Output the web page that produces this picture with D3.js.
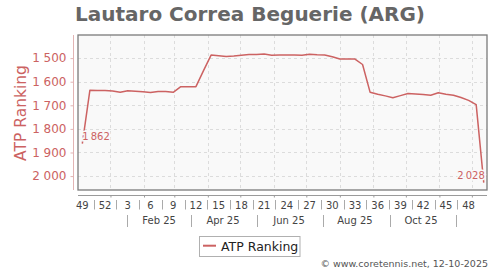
<!DOCTYPE html>
<html><head><meta charset="utf-8">
<script src="https://cdn.jsdelivr.net/npm/d3@7"></script>
<style>
html,body{margin:0;padding:0;background:#fff;}
svg{display:block;font-family:"DejaVu Sans",sans-serif;}
</style></head>
<body>
<svg id="chart" width="500" height="270"></svg>
<script>
// ---- data ----
const titleText = "Lautaro Correa Beguerie (ARG)";
const seriesName = "ATP Ranking";
const firstWeekDate = "2024-12-06"; // Friday of ISO week 49, 2024
const rankings = [1862,1636,1637,1637,1639,1645,1638,1640,1643,1646,
  1641,1642,1645,1621,1621,1621,1553,1487,1490,1493,
  1491,1488,1485,1485,1483,1488,1487,1487,1487,1488,
  1484,1486,1487,1494,1504,1504,1504,1527,1645,1653,
  1660,1668,1659,1650,1652,1654,1657,1647,1653,1657,
  1667,1679,1697,2028];
const weekTickLabels = ["49","52","3","6","9","12","15","18","21","24","27","30","33","36","39","42","45","48"];
const monthTickLabels = ["Feb 25","Apr 25","Jun 25","Aug 25","Oct 25"];
const monthTickDates = ["2025-02-15","2025-04-15","2025-06-15","2025-08-15","2025-10-15"];
const monthSepDates = ["2025-01-16","2025-03-16","2025-05-16","2025-07-16","2025-09-16","2025-11-16"];
const yTicks = [1500,1600,1700,1800,1900,2000];
const creditText = "\u00a9 www.coretennis.net, 12-10-2025";

// ---- build ----
const parse = d3.timeParse("%Y-%m-%d");
const d0 = parse(firstWeekDate);
const dates = rankings.map((_, i) => d3.timeDay.offset(d0, 7 * i));
const data = rankings.map((v, i) => ({date: dates[i], value: v}));

const svg = d3.select("#chart");
const L = 78, R = 487, T = 35, B = 190;
const lineColor = "#cc6262";
const x = d3.scaleTime().domain([parse("2024-12-02"), parse("2025-12-15")]).range([L, R]);
const y = d3.scaleLinear().domain([1402, 2059]).range([T, B]);
const fmt = v => d3.format(",")(v).replace(",", " ");

// title
svg.append("text").attr("x", 250).attr("y", 21).attr("text-anchor", "middle")
  .attr("font-size", 20).attr("font-weight", "bold").attr("fill", "#666").text(titleText);

// plot bg
svg.append("rect").attr("x", L).attr("y", T).attr("width", R - L).attr("height", B - T)
  .attr("fill", "#f9f9f9");

// grids
const monthStarts = d3.timeMonth.range(parse("2024-12-02"), parse("2025-12-15"));
svg.append("g").selectAll("line").data(monthStarts).join("line")
  .attr("x1", d => Math.round(x(d)) + 0.5).attr("x2", d => Math.round(x(d)) + 0.5)
  .attr("y1", T).attr("y2", B)
  .attr("stroke", "#dcdcdc").attr("stroke-dasharray", "3,3");
svg.append("g").selectAll("line").data(yTicks).join("line")
  .attr("x1", L).attr("x2", R)
  .attr("y1", d => Math.round(y(d)) + 0.5).attr("y2", d => Math.round(y(d)) + 0.5)
  .attr("stroke", "#dcdcdc").attr("stroke-dasharray", "3,3");

// frame
svg.append("rect").attr("x", L).attr("y", T).attr("width", R - L).attr("height", B - T)
  .attr("fill", "none").attr("stroke", "#7a7a7a").attr("stroke-width", 1.3);

// y axis
const yAxis = svg.append("g").attr("transform", "translate(73.5,0)")
  .call(d3.axisLeft(y).tickValues(yTicks).tickSize(3).tickPadding(4).tickFormat(fmt));
yAxis.select(".domain").attr("d", `M0,${T}V${B}`).attr("stroke", "#e2b4b4");
yAxis.selectAll(".tick line").attr("stroke", "#e2b4b4");
yAxis.selectAll(".tick text").attr("fill", "#cc6262").attr("font-size", 12)
  .attr("font-family", "DejaVu Sans");
svg.append("text").attr("transform", "translate(26,113) rotate(-90)")
  .attr("text-anchor", "middle").attr("font-size", 15.5).attr("fill", "#cc6262").text(seriesName);

// x axis (week row)
const xAxis = svg.append("g").attr("transform", `translate(0,195.5)`)
  .call(d3.axisBottom(x).tickValues(monthStarts).tickSize(2).tickFormat(""));
xAxis.select(".domain").attr("d", `M${L},0H${R}`).attr("stroke", "#9a9a9a");
xAxis.selectAll(".tick line").attr("stroke", "#9a9a9a");

const weekDates = weekTickLabels.map((_, k) => dates[3 * k]);
svg.append("g").selectAll("text").data(weekTickLabels).join("text")
  .attr("x", (d, k) => x(weekDates[k])).attr("y", 208.5).attr("text-anchor", "middle")
  .attr("font-size", 10).attr("fill", "#444").text(d => d);
const weekSeps = d3.pairs(weekDates).map(([a, b]) => new Date((+a + +b) / 2));
svg.append("g").selectAll("line").data(weekSeps).join("line")
  .attr("x1", d => Math.round(x(d)) + 0.5).attr("x2", d => Math.round(x(d)) + 0.5)
  .attr("y1", 200).attr("y2", 209.5).attr("stroke", "#aaa");

// month row
svg.append("g").selectAll("text").data(monthTickLabels).join("text")
  .attr("x", (d, k) => x(parse(monthTickDates[k]))).attr("y", 224.3).attr("text-anchor", "middle")
  .attr("font-size", 10).attr("fill", "#444").text(d => d);
svg.append("g").selectAll("line").data(monthSepDates).join("line")
  .attr("x1", d => Math.round(x(parse(d))) + 0.5).attr("x2", d => Math.round(x(parse(d))) + 0.5)
  .attr("y1", 215).attr("y2", 227).attr("stroke", "#aaa");

// line
const line = d3.line().x(d => x(d.date)).y(d => y(d.value));
svg.append("path").datum(data).attr("d", line).attr("fill", "none")
  .attr("stroke", lineColor).attr("stroke-width", 1.5).attr("stroke-linejoin", "round");

// data labels with halo
const lblFmt = v => d3.format(",")(v).replace(",", "\u2009");
const first = data[0], last = data[data.length - 1];
svg.append("text").attr("x", x(first.date)).attr("y", y(first.value) - 4)
  .attr("text-anchor", "start").attr("font-size", 10).attr("fill", lineColor)
  .attr("stroke", "#f9f9f9").attr("stroke-width", 3).attr("paint-order", "stroke")
  .text(lblFmt(first.value));
svg.append("text").attr("x", x(last.date) + 1).attr("y", y(last.value) - 3.5)
  .attr("text-anchor", "end").attr("font-size", 10).attr("fill", lineColor)
  .attr("stroke", "#f9f9f9").attr("stroke-width", 3).attr("paint-order", "stroke")
  .text(lblFmt(last.value));

// legend
svg.append("rect").attr("x", 199.5).attr("y", 236.5).attr("width", 100.5).attr("height", 20)
  .attr("fill", "#fff").attr("stroke", "#b0b0b0");
svg.append("line").attr("x1", 203).attr("x2", 216).attr("y1", 245.7).attr("y2", 245.7)
  .attr("stroke", lineColor).attr("stroke-width", 2);
svg.append("text").attr("x", 221).attr("y", 250.7).attr("font-size", 12.5).attr("fill", "#222")
  .text(seriesName);

// credit
svg.append("text").attr("x", 488).attr("y", 266.5).attr("text-anchor", "end")
  .attr("font-size", 9.5).attr("fill", "#555").text(creditText);
</script>
</body></html>
